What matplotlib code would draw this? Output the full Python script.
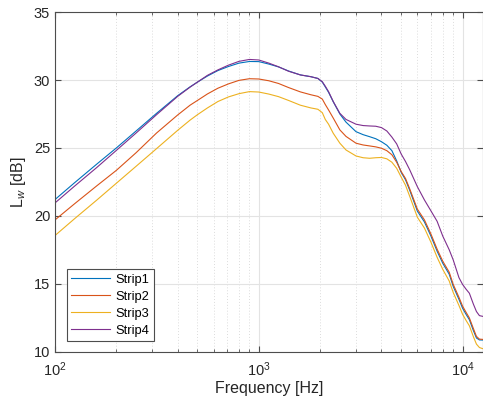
import numpy as np
import matplotlib
matplotlib.use("Agg")
from matplotlib import pyplot as plt
from matplotlib.ticker import LogLocator, FixedLocator, NullFormatter

plt.rcParams['font.family'] = ['Liberation Sans', 'DejaVu Sans']
plt.rcParams['mathtext.fontset'] = 'custom'
plt.rcParams['mathtext.rm'] = 'Liberation Sans'
plt.rcParams['mathtext.it'] = 'Liberation Sans:italic'

freq = [100, 125, 160, 200, 250, 315, 400, 460, 500, 560, 630, 710, 800, 900, 1000,
        1120, 1250, 1400, 1600, 1800, 1950, 2050, 2120, 2200, 2320, 2500, 2680, 3000,
        3250, 3500, 3750, 4000, 4250, 4500, 4750, 5000, 5250, 5500, 6000, 6500, 7000,
        7500, 8000, 8600, 9000, 9600, 10000, 10400, 10800, 11300, 11700, 12100, 12530]

strip1 = [21.2, 22.45, 23.8, 25.0, 26.25, 27.55, 28.85, 29.5, 29.85, 30.3, 30.7, 31.0,
          31.25, 31.37, 31.36, 31.18, 30.97, 30.67, 30.38, 30.25, 30.12, 29.85, 29.5,
          29.1, 28.4, 27.5, 26.9, 26.2, 25.98, 25.83, 25.68, 25.46, 25.2, 24.8, 24.05,
          23.2, 22.65, 21.9, 20.35, 19.55, 18.5, 17.4, 16.5, 15.7, 14.8, 13.85, 13.2,
          12.75, 12.35, 11.55, 11.0, 10.86, 10.85]
strip2 = [19.7, 20.9, 22.2, 23.35, 24.65, 26.1, 27.43, 28.15, 28.5, 28.98, 29.4, 29.72,
          29.98, 30.1, 30.08, 29.95, 29.75, 29.45, 29.13, 28.92, 28.8, 28.6, 28.2, 27.8,
          27.2, 26.33, 25.85, 25.35, 25.22, 25.15, 25.08, 24.98, 24.8, 24.5, 23.95,
          23.26, 22.75, 22.0, 20.5, 19.7, 18.65, 17.55, 16.65, 15.85, 14.95, 14.0, 13.35,
          12.9, 12.48, 11.7, 11.12, 10.92, 10.9]
strip3 = [18.55, 19.8, 21.15, 22.4, 23.65, 24.95, 26.3, 27.05, 27.45, 27.95, 28.42, 28.76,
          29.0, 29.15, 29.12, 28.97, 28.78, 28.5, 28.15, 27.95, 27.85, 27.6, 27.1, 26.75,
          26.08, 25.35, 24.85, 24.41, 24.28, 24.24, 24.28, 24.3, 24.2, 23.95, 23.5, 22.85,
          22.25, 21.45, 19.9, 19.1, 18.05, 16.95, 16.05, 15.2, 14.35, 13.4, 12.75, 12.3,
          11.9, 11.1, 10.55, 10.3, 10.22]
strip4 = [20.95, 22.2, 23.55, 24.82, 26.1, 27.45, 28.8, 29.48, 29.85, 30.35, 30.75, 31.1,
          31.38, 31.52, 31.48, 31.25, 30.98, 30.65, 30.38, 30.25, 30.12, 29.88, 29.55,
          29.15, 28.42, 27.55, 27.1, 26.75, 26.65, 26.62, 26.6, 26.5, 26.25, 25.8, 25.3,
          24.55, 24.0, 23.4, 22.15, 21.17, 20.36, 19.6, 18.5, 17.5, 16.75, 15.45, 14.95,
          14.6, 14.3, 13.5, 12.95, 12.65, 12.6]

labels = ["Strip1", "Strip2", "Strip3", "Strip4"]
colors = ["#0072BD", "#D95319", "#EDB120", "#7E2F8E"]

fig = plt.figure(figsize=(4.83, 4.01), dpi=100)
ax = fig.add_axes([55 / 483, 1 - 351.6 / 401, 1 - 55 / 483 - 0.001, (351.6 - 12.2) / 401])

for ys, lab, c in zip([strip1, strip2, strip3, strip4], labels, colors):
    ax.plot(freq, ys, color=c, lw=0.8, label=lab, solid_joinstyle="round")

ax.set_xscale("log")
ax.set_xlim(100, 12530)
ax.set_ylim(10, 35)
ax.set_yticks([10, 15, 20, 25, 30, 35])
ax.xaxis.set_major_locator(FixedLocator([100, 1000, 10000]))
ax.xaxis.set_minor_locator(LogLocator(base=10, subs=np.arange(2, 10)))
ax.xaxis.set_minor_formatter(NullFormatter())

ax.grid(True, which="major", color="#e3e3e3", lw=0.8, ls="-")
ax.grid(True, which="minor", axis="x", color="#dcdcdc", lw=0.7, ls=(0, (1, 2)))
ax.set_axisbelow(True)

for sp in ax.spines.values():
    sp.set_color("#4d4d4d")
    sp.set_linewidth(0.8)
ax.tick_params(which="both", direction="in", top=True, right=True,
               colors="#4d4d4d", labelcolor="#262626", labelsize=10.5)
ax.tick_params(which="major", length=4)
ax.tick_params(which="minor", length=2.5)
ax.tick_params(axis="x", pad=6)

ax.set_xlabel("Frequency [Hz]", fontsize=11.5, color="#262626", labelpad=2)
ax.set_ylabel(r"L$_w$ [dB]", fontsize=11.5, color="#262626", labelpad=4)

leg = ax.legend(loc="lower left", bbox_to_anchor=(0.028, 0.031), borderaxespad=0,
                fontsize=9.3, handlelength=3.0, handletextpad=0.4, labelspacing=0.38,
                borderpad=0.35, fancybox=False, framealpha=1)
leg.get_frame().set_edgecolor("#4d4d4d")
leg.get_frame().set_linewidth(0.8)

fig.savefig("out.png", dpi=100)
